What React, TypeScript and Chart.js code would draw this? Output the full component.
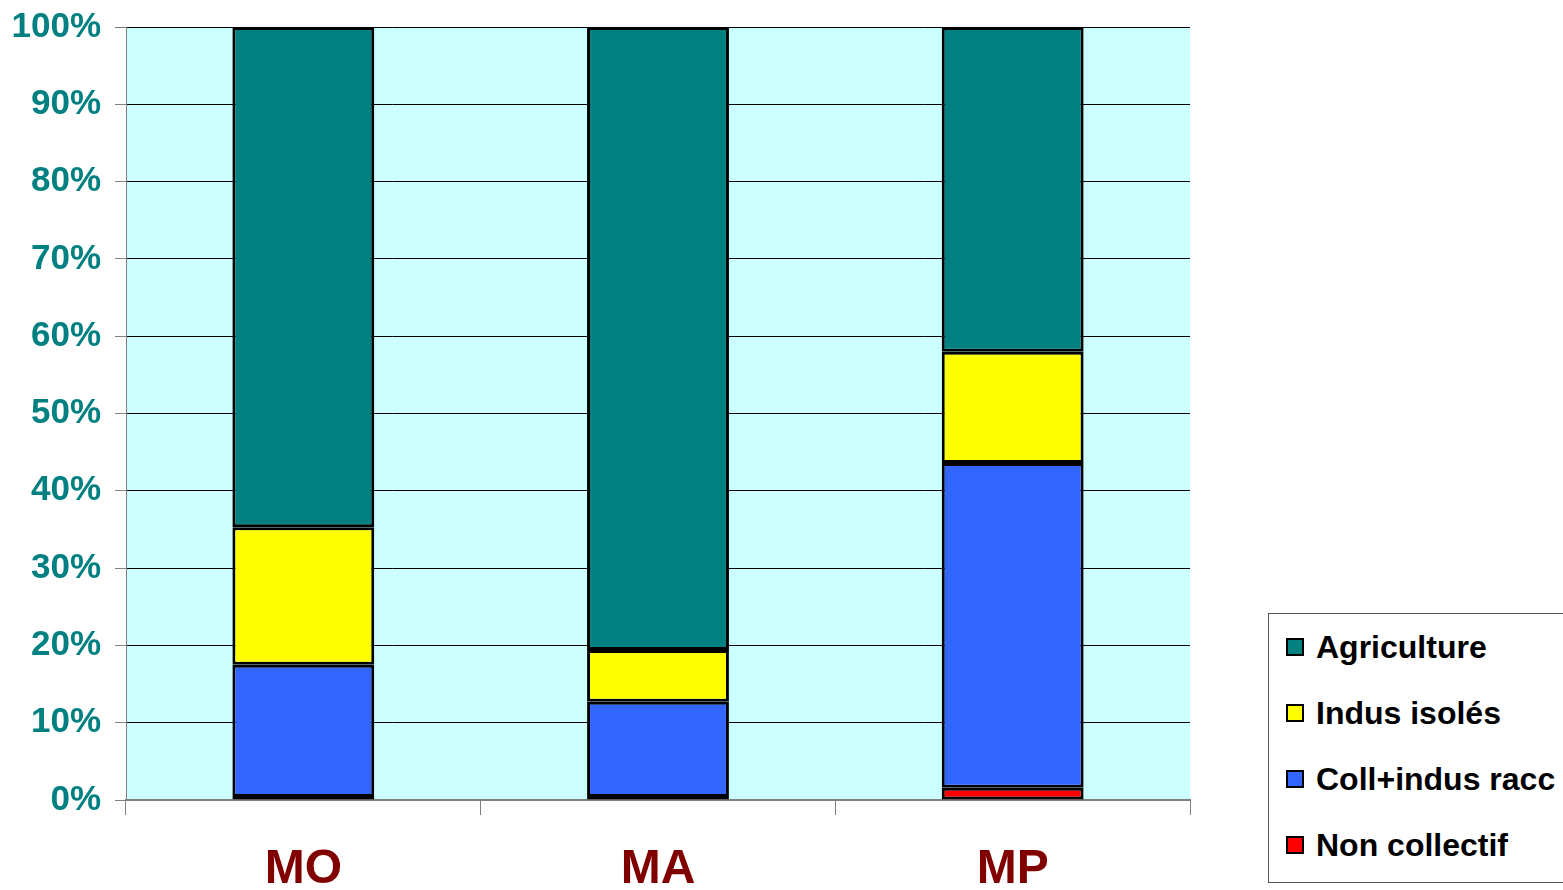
import React, { useEffect, useRef } from "react";
import { Chart, registerables } from "chart.js";

Chart.register(...registerables);

const categories = ["MO", "MA", "MP"];
const nonCollectif = [0.4, 0.4, 1.6];
const collIndusRacc = [17.1, 12.3, 42.0];
const indusIsoles = [17.8, 6.7, 14.4];
const agriculture = [64.7, 80.6, 42.0];
const yTicks = [0, 10, 20, 30, 40, 50, 60, 70, 80, 90, 100];

const seriesNames = ["Agriculture", "Indus isolés", "Coll+indus racc", "Non collectif"];
const seriesColors = ["#008080", "#FFFF00", "#3366FF", "#FF0000"];

const FONT = "'Liberation Sans', Arial, sans-serif";

const plotBg = {
  id: "plotBg",
  beforeDraw(chart: any) {
    const { ctx, chartArea } = chart;
    if (!chartArea) return;
    ctx.save();
    ctx.fillStyle = "#CCFFFF";
    ctx.fillRect(chartArea.left, chartArea.top, chartArea.right - chartArea.left, chartArea.bottom - chartArea.top);
    ctx.restore();
  },
};

export default function App() {
  const ref = useRef<HTMLCanvasElement | null>(null);

  useEffect(() => {
    if (!ref.current) return;
    const mk = (label: string, data: number[], color: string) => ({
      label,
      data,
      backgroundColor: color,
      borderColor: "#000000",
      borderWidth: 3,
      borderSkipped: false as any,
      categoryPercentage: 0.8,
      barPercentage: 0.5,
    });
    const chart = new Chart(ref.current, {
      type: "bar",
      data: {
        labels: categories,
        datasets: [
          mk(seriesNames[3], nonCollectif, seriesColors[3]),
          mk(seriesNames[2], collIndusRacc, seriesColors[2]),
          mk(seriesNames[1], indusIsoles, seriesColors[1]),
          mk(seriesNames[0], agriculture, seriesColors[0]),
        ],
      },
      options: {
        animation: false,
        responsive: false,
        maintainAspectRatio: false,
        layout: { padding: { left: 0, right: 373, top: 27, bottom: 0 } },
        plugins: { legend: { display: false }, tooltip: { enabled: false } },
        scales: {
          x: {
            stacked: true,
            offset: true,
            grid: {
              offset: true,
              drawOnChartArea: false,
              drawTicks: true,
              tickLength: 15,
              tickColor: "#808080",
              lineWidth: 1,
            },
            border: { color: "#808080", width: 2 },
            ticks: {
              color: "#800000",
              font: { family: FONT, size: 48, weight: "bold" },
              padding: 26,
            },
            afterFit: (s: any) => {
              s.height = 90;
              s.paddingLeft = 0;
              s.paddingRight = 0;
            },
          },
          y: {
            stacked: true,
            min: 0,
            max: 100,
            afterBuildTicks: (s: any) => {
              s.ticks = yTicks.map((v) => ({ value: v }));
            },
            grid: {
              color: "#000000",
              lineWidth: 1,
              drawTicks: true,
              tickLength: 11,
              tickColor: "#808080",
            },
            border: { color: "#808080", width: 1 },
            ticks: {
              color: "#008080",
              font: { family: FONT, size: 35, weight: "bold" },
              padding: 14,
              callback: (v: any) => v + "%",
            },
            afterFit: (s: any) => {
              s.width = 126;
              s.paddingTop = 0;
              s.paddingBottom = 0;
            },
          },
        },
      },
      plugins: [plotBg],
    });
    return () => chart.destroy();
  }, []);

  const legendRows = [0, 1, 2, 3];

  return (
    <div style={{ position: "fixed", left: 0, top: 0, width: 1563, height: 890, background: "#fff", overflow: "hidden" }}>
      <canvas ref={ref} width={1563} height={890} style={{ position: "absolute", left: 0, top: 0, width: 1563, height: 890 }} />
      <div
        style={{
          position: "absolute",
          left: 1268,
          top: 613,
          width: 330,
          height: 270,
          border: "1px solid #555",
          boxSizing: "border-box",
          background: "#fff",
        }}
      >
        {legendRows.map((i) => (
          <div
            key={i}
            style={{
              position: "absolute",
              left: 17,
              top: 33 + i * 66 - 20,
              height: 40,
              display: "flex",
              alignItems: "center",
              whiteSpace: "nowrap",
            }}
          >
            <span
              style={{
                display: "inline-block",
                width: 14,
                height: 14,
                background: seriesColors[i],
                border: "2px solid #000",
                marginRight: 12,
              }}
            />
            <span style={{ fontFamily: FONT, fontWeight: "bold", fontSize: 32, color: "#000" }}>{seriesNames[i]}</span>
          </div>
        ))}
      </div>
    </div>
  );
}
